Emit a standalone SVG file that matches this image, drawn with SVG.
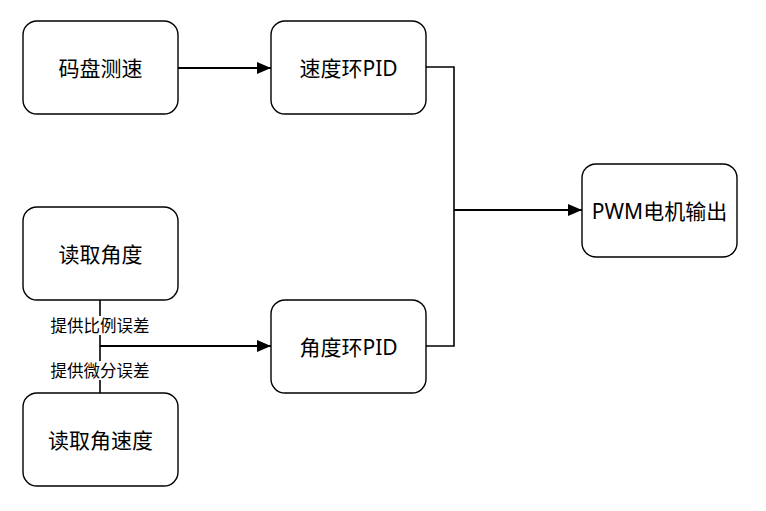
<svg xmlns="http://www.w3.org/2000/svg" width="766" height="511" viewBox="0 0 766 511">
<style>
.box{fill:#fff;stroke:#000;stroke-width:1.4}
.t{font-family:"Noto Sans","Noto Sans CJK SC",sans-serif;font-size:21px;text-anchor:middle;dominant-baseline:central;fill:#000}
.lbl{font-family:"Noto Sans","Noto Sans CJK SC",sans-serif;font-size:16.5px;text-anchor:middle;dominant-baseline:central;fill:#000}
.c{fill:none;stroke:#000;stroke-width:1.6}
.a{fill:none;stroke:#000;stroke-width:2.2}
</style>
<defs>
<marker id="arr" viewBox="0 0 14 12" refX="14" refY="6" markerWidth="14" markerHeight="12" markerUnits="userSpaceOnUse" orient="auto">
<path d="M0,0 L14,6 L0,12 Z" fill="#000"/>
</marker>
</defs>
<rect width="766" height="511" fill="#fff"/>
<g id="connectors">
<path class="a" d="M178,68 H271" marker-end="url(#arr)"/>
<path class="c" d="M426,67 H454 V346 H426"/>
<path class="a" d="M454,210 H582" marker-end="url(#arr)"/>
<path class="c" d="M100,300 V393"/>
<path class="a" d="M100,346 H271" marker-end="url(#arr)"/>
<g id="label1"><rect x="48" y="316" width="104" height="19" fill="#fff"/><text class="lbl" x="100" y="325.5">提供比例误差</text></g>
<g id="label2"><rect x="48" y="361" width="104" height="19" fill="#fff"/><text class="lbl" x="100" y="370.5">提供微分误差</text></g>
</g>
<g id="n1"><rect class="box" x="23" y="21" width="155" height="93" rx="14"/><text class="t" x="100.5" y="67.5">码盘测速</text></g>
<g id="n2"><rect class="box" x="271" y="21" width="155" height="93" rx="14"/><text class="t" x="348.5" y="67.5">速度环PID</text></g>
<g id="n3"><rect class="box" x="23" y="207" width="155" height="93" rx="14"/><text class="t" x="100.5" y="253.5">读取角度</text></g>
<g id="n4"><rect class="box" x="271" y="300" width="155" height="93" rx="14"/><text class="t" x="348.5" y="346.5">角度环PID</text></g>
<g id="n5"><rect class="box" x="23" y="393" width="155" height="93" rx="14"/><text class="t" x="100.5" y="439.5">读取角速度</text></g>
<g id="n6"><rect class="box" x="582" y="164" width="155" height="93" rx="14"/><text class="t" x="659.5" y="210.5">PWM电机输出</text></g>
</svg>
